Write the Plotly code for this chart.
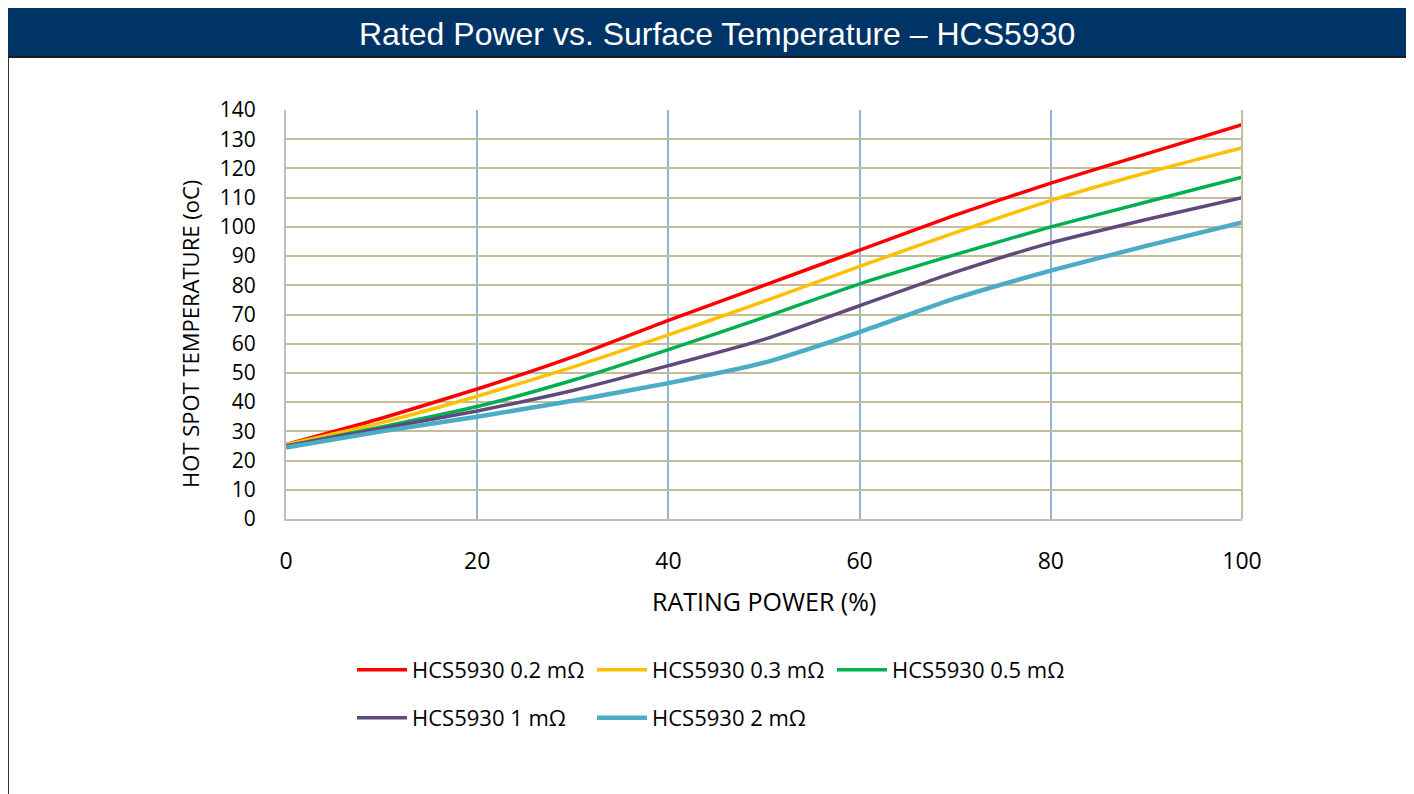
import plotly.graph_objects as go

# ---------------- data ----------------
x_power = [0, 10, 20, 30, 40, 50, 60, 70, 80, 90, 100]
t_02mohm = [25.5, 34.5, 44.5, 55.5, 68.0, 80.0, 92.0, 104.0, 115.0, 125.0, 135.0]
t_03mohm = [25.5, 33.0, 42.0, 52.0, 63.0, 74.5, 86.5, 98.0, 109.0, 118.5, 127.0]
t_05mohm = [25.0, 31.5, 38.5, 47.5, 58.0, 69.0, 80.5, 90.5, 100.0, 108.5, 117.0]
t_1mohm = [25.0, 31.0, 37.0, 44.0, 52.5, 61.5, 73.0, 84.5, 94.5, 102.5, 110.0]
t_2mohm = [24.5, 30.0, 35.0, 40.5, 46.5, 53.5, 64.0, 75.5, 85.0, 93.5, 101.5]

series_names = ["HCS5930 0.2 mΩ", "HCS5930 0.3 mΩ", "HCS5930 0.5 mΩ",
                "HCS5930 1 mΩ", "HCS5930 2 mΩ"]
series_vals = [t_02mohm, t_03mohm, t_05mohm, t_1mohm, t_2mohm]
series_colors = ["#FF0000", "#FFC000", "#00B050", "#604A7B", "#4BACC6"]
series_widths = [3.5, 3.5, 3.5, 3.5, 4.5]
series_legend = ["legend", "legend", "legend", "legend2", "legend2"]

x_ticks = [0, 20, 40, 60, 80, 100]
y_ticks = list(range(0, 141, 10))

# ---------------- layout geometry (page pixels) ----------------
OFF = 8                      # browser body margin
W, H = 1414 - OFF, 794 - OFF
L, R, T, B = 286 - OFF, 1242 - OFF, 110 - OFF, 519 - OFF
pw, ph = R - L, B - T

def px(xp):
    return (xp - OFF - L) / pw

def py(yp):
    return (B - (yp - OFF)) / ph

FONT = "Open Sans"

fig = go.Figure()
for name, vals, col, wd, lg in zip(series_names, series_vals, series_colors,
                                   series_widths, series_legend):
    fig.add_trace(go.Scatter(
        x=x_power, y=vals, name=name, mode="lines",
        line=dict(color=col, width=wd, shape="spline", smoothing=0.6),
        legend=lg,
    ))

fig.update_xaxes(
    range=[0, 100], tickvals=x_ticks, ticktext=[str(v) for v in x_ticks],
    showgrid=True, gridcolor="#95B3D7", gridwidth=1.5,
    showline=True, linecolor="#BFBFBF", linewidth=2, mirror=False,
    zeroline=False, ticks="", ticklabelstandoff=20,
    tickfont=dict(family=FONT, size=23, color="#000000"),
)
fig.update_yaxes(
    range=[0, 140], tickvals=y_ticks,
    showgrid=True, gridcolor="#C4BD97", gridwidth=2,
    showline=True, linecolor="#BFBFBF", linewidth=2,
    zeroline=False, ticks="", ticklabelstandoff=24,
    tickfont=dict(family=FONT, size=21, color="#000000"),
)

shapes = [
    # title bar
    dict(type="rect", xref="paper", yref="paper",
         x0=px(7), x1=px(1420), y0=py(57), y1=py(7),
         fillcolor="#003366", line=dict(color="#1A1A1A", width=2), layer="above"),
    # left page border
    dict(type="line", xref="paper", yref="paper",
         x0=px(8.5), x1=px(8.5), y0=py(57), y1=py(800),
         line=dict(color="#333333", width=1)),
    # right tan border of plot area
    dict(type="line", xref="paper", yref="paper",
         x0=1, x1=1, y0=0, y1=1, line=dict(color="#C4BD97", width=2)),
]

annotations = [
    dict(text="Rated Power vs. Surface Temperature – HCS5930",
         xref="paper", yref="paper", x=px(717), y=py(34),
         xanchor="center", yanchor="middle", showarrow=False,
         font=dict(family="Liberation Sans", size=32, color="#FFFFFF")),
    dict(text="RATING POWER (%)",
         xref="paper", yref="paper", x=px(764), y=py(601),
         xanchor="center", yanchor="middle", showarrow=False,
         font=dict(family=FONT, size=25, color="#000000")),
    dict(text="HOT SPOT TEMPERATURE (oC)", textangle=-90,
         xref="paper", yref="paper", x=px(190), y=py(334),
         xanchor="center", yanchor="middle", showarrow=False,
         font=dict(family=FONT, size=22, color="#000000")),
]

leg_common = dict(orientation="h", xanchor="left", yanchor="middle",
                  entrywidth=175, itemwidth=50, bgcolor="rgba(0,0,0,0)",
                  font=dict(family=FONT, size=22, color="#000000"))

fig.update_layout(
    width=W, height=H,
    margin=dict(l=L, r=W - R, t=T, b=H - B, pad=0),
    paper_bgcolor="#FFFFFF", plot_bgcolor="#FFFFFF",
    shapes=shapes, annotations=annotations,
    legend=dict(x=px(352), y=py(670), **leg_common),
    legend2=dict(x=px(352), y=py(718), **leg_common),
    showlegend=True,
)

fig.write_html("out.html")
